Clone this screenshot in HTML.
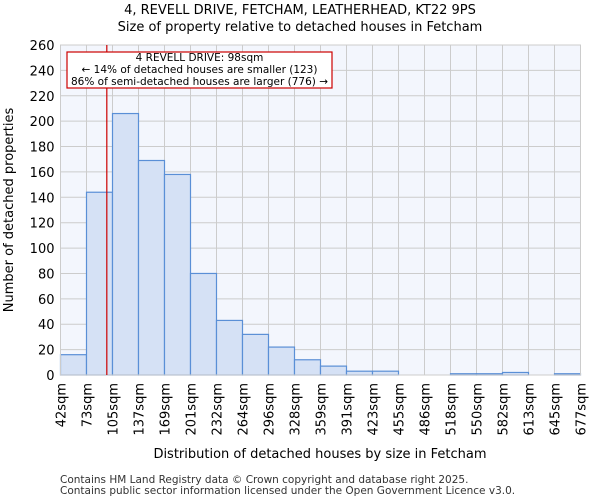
<!DOCTYPE html>
<html><head><meta charset="utf-8"><style>
body{margin:0;background:#fff;font-family:"DejaVu Sans","Liberation Sans",sans-serif;}
</style></head><body>
<svg id="c" width="600" height="500" xmlns="http://www.w3.org/2000/svg" font-family="DejaVu Sans, Liberation Sans, sans-serif"></svg>
<script>
const categories=["42sqm","73sqm","105sqm","137sqm","169sqm","201sqm","232sqm","264sqm","296sqm","328sqm","359sqm","391sqm","423sqm","455sqm","486sqm","518sqm","550sqm","582sqm","613sqm","645sqm","677sqm"];
const values=[16,144,206,169,158,80,43,32,22,12,7,3,3,0,0,1,1,2,0,1];
const yTicks=[0,20,40,60,80,100,120,140,160,180,200,220,240,260];
const markerValue=98;
const binEdges=[42,73,105,137,169,201,232,264,296,328,359,391,423,455,486,518,550,582,613,645,677];
const svg=document.getElementById('c');
const NS="http://www.w3.org/2000/svg";
const L=60.5,R=580.5,T=45,B=375,ymax=260;
const n=values.length,bw=(R-L)/n;
const x=i=>L+i*bw;
const y=v=>B-v/ymax*(B-T);
function mk(t,a,txt){const e=document.createElementNS(NS,t);for(const k in a)e.setAttribute(k,a[k]);if(txt!==undefined)e.textContent=txt;svg.appendChild(e);return e;}
let e;
e=mk('rect',{x:L,y:T,width:R-L,height:B-T,fill:'#f3f6fd'});


yTicks.forEach(v=>{e=mk('line',{x1:L,x2:R,y1:y(v),y2:y(v),stroke:'#cccccc','stroke-width':1});


e=mk('text',{x:L-6,y:y(v)+5,'text-anchor':'end','font-size':13,fill:'#000'},v);

});
categories.forEach((c,i)=>{e=mk('line',{x1:x(i),x2:x(i),y1:T,y2:B,stroke:'#cccccc','stroke-width':1});


e=mk('text',{transform:`translate(${x(i)+5},${B+8}) rotate(-90)`,'text-anchor':'end','font-size':13,fill:'#000'},c);

});
values.forEach((v,i)=>{e=mk('rect',{x:x(i),y:y(v),width:bw,height:B-y(v),fill:'#d5e1f5',stroke:'#5a8fd6','stroke-width':1.2});

});
mk('rect',{x:L,y:T,width:R-L,height:B-T,fill:'none',stroke:'#cccccc'});
// marker
let bi=0;while(bi<binEdges.length-2&&binEdges[bi+1]<markerValue)bi++;
const mx=x(bi)+(markerValue-binEdges[bi])/(binEdges[bi+1]-binEdges[bi])*bw;
e=mk('line',{x1:mx,x2:mx,y1:T,y2:B,stroke:'#cc0000','stroke-width':1.2});


e=mk('rect',{x:67,y:52,width:265,height:36,fill:'#fff',stroke:'#cc0000','stroke-width':1.2});


[["4 REVELL DRIVE: 98sqm",62],["\u2190 14% of detached houses are smaller (123)",74],["86% of semi-detached houses are larger (776) \u2192",86]].forEach(([t,yy])=>{
e=mk('text',{x:199.5,y:yy-1,'text-anchor':'middle','font-size':10.5,fill:'#000'},t);

});
e=mk('text',{x:300,y:14,'text-anchor':'middle','font-size':13,fill:'#000'},"4, REVELL DRIVE, FETCHAM, LEATHERHEAD, KT22 9PS");


e=mk('text',{x:300,y:31,'text-anchor':'middle','font-size':13,fill:'#000'},"Size of property relative to detached houses in Fetcham");


e=mk('text',{x:320,y:458,'text-anchor':'middle','font-size':13,fill:'#000'},"Distribution of detached houses by size in Fetcham");


e=mk('text',{transform:'translate(13,210) rotate(-90)','text-anchor':'middle','font-size':13,fill:'#000'},"Number of detached properties");


e=mk('text',{x:60,y:483,'font-size':10.5,fill:'#333'},"Contains HM Land Registry data \u00a9 Crown copyright and database right 2025.");


e=mk('text',{x:60,y:494,'font-size':10.5,fill:'#333'},"Contains public sector information licensed under the Open Government Licence v3.0.");


</script>
</body></html>
